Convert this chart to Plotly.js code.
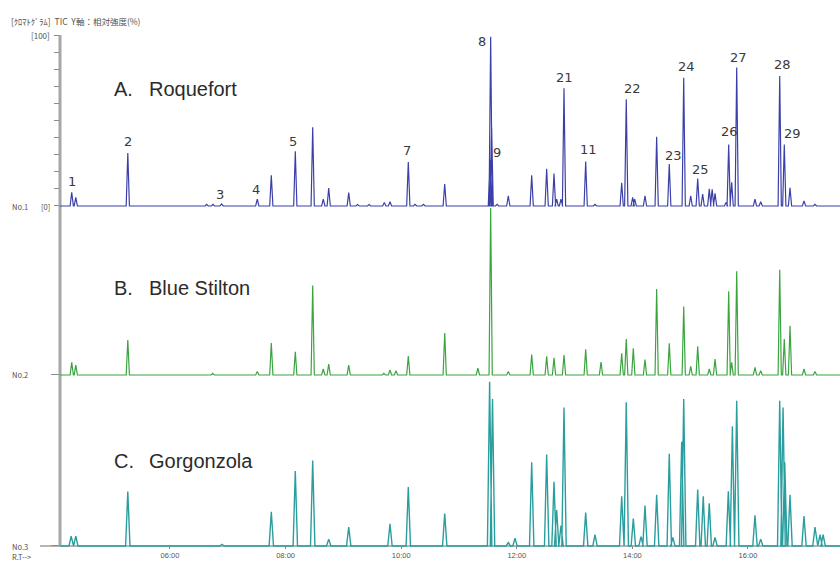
<!DOCTYPE html>
<html>
<head>
<meta charset="utf-8">
<script src="https://cdn.plot.ly/plotly-3.0.1.min.js"></script>
<style>html,body{margin:0;padding:0;background:#fff}#chart{width:840px;height:561px}</style>
</head>
<body>
<div id="chart"></div>
<script>
// ---- Data (retention time in minutes, relative intensity in %) ----
const timesA = [4.30,4.37,5.27,6.635,6.744,6.894,7.51,7.753,8.168,8.469,8.652,8.746,9.092,9.244,9.445,9.708,9.806,10.123,10.24,10.385,10.753,11.535,11.548,11.565,11.66,11.853,12.258,12.517,12.644,12.69,12.765,12.817,13.192,13.353,13.815,13.894,14.005,14.04,14.218,14.42,14.638,14.888,15.009,15.13,15.216,15.33,15.38,15.43,15.62,15.666,15.718,15.805,16.121,16.22,16.549,16.628,16.727,16.969,17.159];
const heightsA = [8,5,31,1,1,1.2,4,18,32,46,4,10.5,7.8,0.8,0.8,2,2.5,25.7,1,1,12.9,27,99,46,1,6,18,21.8,19,4,4,68.8,26,1,13.6,62.4,5,4,6,40.5,24.5,75,6,16,7,10,9.7,7.4,2,36,13.8,81,4,2.5,76,36,10.7,3,1];

const timesB = [4.30,4.37,5.27,6.74,7.51,7.753,8.168,8.469,8.652,8.746,9.092,9.70,9.806,9.91,10.123,10.753,11.327,11.548,11.853,12.258,12.517,12.644,12.817,13.192,13.457,13.815,13.894,14.016,14.218,14.42,14.638,14.888,15.009,15.13,15.33,15.43,15.666,15.718,15.805,16.121,16.22,16.549,16.628,16.727,16.969,17.159];
const heightsB = [7.4,5.8,20.5,1,2,18.7,13.6,52.4,3.5,6.4,5.8,1,2.9,2.5,11,24.5,4,97.7,2,12,10.9,10,11.7,15,7.6,12.7,21,15.6,9,50.3,18.5,40,5,16.8,3.5,9.3,49,7.4,60.6,4.5,2.5,61.6,21,28.8,3.5,2];

const timesC = [4.29,4.37,5.27,6.90,7.753,8.168,8.469,8.746,9.092,9.806,10.123,10.753,11.53,11.58,11.853,11.969,12.258,12.517,12.644,12.69,12.765,12.817,13.192,13.353,13.815,13.894,14.016,14.149,14.218,14.42,14.638,14.70,14.853,14.888,15.13,15.226,15.33,15.43,15.66,15.73,15.805,16.121,16.22,16.549,16.607,16.636,16.727,16.969,17.159,17.246,17.30];
const heightsC = [5.8,5.8,31.8,1,20,43.8,50,4,11,13,34.5,19,96,86,2,4.5,49,53.5,37.6,21,12,81,19.5,6.6,29,84,16,5.5,23.6,30,54,5,61,86,33,29,25,5,32,70,85,18,4,85,81,49,30,17.5,11,6.6,6.6];

const peakLabelsA = ["1","2","3","4","5","7","8","9","21","11","22","23","24","25","26","27","28","29"];
const peakLabelTimesA = [4.30,5.27,6.894,7.51,8.168,10.123,11.548,11.565,12.817,13.192,13.894,14.638,14.888,15.13,15.666,15.805,16.549,16.628];

const tickTimes = [6,8,10,12,14,16];
const tickLabels = ["06:00","08:00","10:00","12:00","14:00","16:00"];
const sampleNames = ["Roquefort","Blue Stilton","Gorgonzola"];
const sampleLetters = ["A.","B.","C."];

// ---- Build chromatogram lines from the peak tables ----
const T0 = 4.097, T1 = 17.592;
function buildLine(times, heights, w) {
  const idx = times.map((t, i) => i).sort((a, b) => times[a] - times[b]);
  const x = [T0], y = [0];
  idx.forEach(i => {
    x.push(times[i] - w, times[i], times[i] + w);
    y.push(0, heights[i], 0);
  });
  x.push(T1); y.push(0);
  return {x, y};
}
const lA = buildLine(timesA, heightsA, 0.028);
const lB = buildLine(timesB, heightsB, 0.028);
const lC = buildLine(timesC, heightsC, 0.038);

const traces = [
  {x: lC.x, y: lC.y, xaxis: 'x', yaxis: 'y', type: 'scatter', mode: 'lines',
   line: {color: '#2a9e9e', width: 1.4}, hoverinfo: 'skip'},
  {x: lB.x, y: lB.y, xaxis: 'x', yaxis: 'y2', type: 'scatter', mode: 'lines',
   line: {color: '#3aa43f', width: 1.2}, hoverinfo: 'skip'},
  {x: lA.x, y: lA.y, xaxis: 'x', yaxis: 'y3', type: 'scatter', mode: 'lines',
   line: {color: '#3b40a8', width: 1.2}, hoverinfo: 'skip'}
];

// label offsets in px (dx right, dy down, relative to peak apex)
const labelOffsets = [[0,-11],[0,-11],[-2,-9],[-1,-10],[-2,-10],[-1,-12],[-9,5],[5,25],[0,-11],[3,-12],[6,-11],[4,-9],[3,-11],[3,-9],[1,-13],[2,-10],[3,-12],[8,-11]];

const annotations = [];
peakLabelsA.forEach((txt, k) => {
  const t = peakLabelTimesA[k];
  let best = 0;
  timesA.forEach((tt, i) => { if (Math.abs(tt - t) < Math.abs(timesA[best] - t)) best = i; });
  annotations.push({
    x: t, y: heightsA[best], xref: 'x', yref: 'y3', text: txt, showarrow: false,
    xanchor: 'center', yanchor: 'middle', xshift: labelOffsets[k][0], yshift: -labelOffsets[k][1],
    font: {family: 'DejaVu Sans', size: 13, color: '#3a3a3a'}
  });
});

const H = 515, BOT = 550; // plot area px (top 35 -> bottom 550)
const py = p => (BOT - p) / H;
const px = p => (p - 60) / 780;
const nameY = [89, 288, 461];
nameY.forEach((yy, k) => {
  annotations.push({x: px(112), y: py(yy), xref: 'paper', yref: 'paper', text: sampleLetters[k],
    showarrow: false, xanchor: 'left', yanchor: 'middle',
    font: {family: 'Liberation Sans', size: 20, color: '#2b2b2b'}});
  annotations.push({x: px(147), y: py(yy), xref: 'paper', yref: 'paper', text: sampleNames[k],
    showarrow: false, xanchor: 'left', yanchor: 'middle',
    font: {family: 'Liberation Sans', size: 20, color: '#2b2b2b'}});
});
const small = (text, x, y, xa, size) => annotations.push({x: px(x), y: py(y), xref: 'paper', yref: 'paper',
  text, showarrow: false, xanchor: xa, yanchor: 'middle',
  font: {family: 'Noto Sans CJK JP', size: size, color: '#505050'}});
small('[ｸﾛﾏﾄｸﾞﾗﾑ]  TIC  Y軸：相対強度(%)', 9, 20.5, 'left', 8.5);
small('[100]', 52, 35, 'right', 8);
small('No.1', 10, 206, 'left', 7.5);
small('[0]', 52, 206, 'right', 7.5);
small('No.2', 10, 375, 'left', 7.5);
small('No.3', 10, 546, 'left', 7.5);
small('R.T-->', 10, 556, 'left', 7.5);

const yBase = {range: [-2, 100], showgrid: false, zeroline: false, showline: false,
  showticklabels: false, ticks: 'outside', tickcolor: '#8a8a8a', tickwidth: 1, anchor: 'x', fixedrange: true};

const layout = {
  width: 840, height: 561,
  margin: {l: 60, r: 0, t: 35, b: 11},
  paper_bgcolor: '#ffffff', plot_bgcolor: 'rgba(0,0,0,0)',
  showlegend: false,
  xaxis: {range: [T0, T1], showgrid: false, zeroline: false, showline: false,
    tickvals: tickTimes, ticktext: tickLabels, ticks: 'inside', ticklen: 3, tickcolor: '#888',
    tickfont: {family: 'Liberation Sans', size: 7.5, color: '#555'}, anchor: 'y', fixedrange: true},
  yaxis: Object.assign({}, yBase, {domain: [py(549.4), py(375)], tickvals: [0], ticklen: 8}),
  yaxis2: Object.assign({}, yBase, {domain: [py(378.4), py(204)], tickvals: [0], ticklen: 8}),
  yaxis3: Object.assign({}, yBase, {domain: [py(209.4), 1], tickvals: [0,10,20,30,40,50,60,70,80,90,100], ticklen: 5}),
  shapes: [
    {type: 'line', xref: 'paper', yref: 'y', x0: px(40), x1: 1, y0: 0, y1: 0,
     line: {color: '#9c9c9c', width: 1.5}, layer: 'below'},
    {type: 'line', xref: 'paper', yref: 'paper', x0: 0, x1: 0, y0: py(546), y1: 1,
     line: {color: '#a6a6a6', width: 3}, layer: 'below'}
  ],
  annotations: annotations
};

Plotly.newPlot('chart', traces, layout, {staticPlot: true, displayModeBar: false});
</script>
</body>
</html>
